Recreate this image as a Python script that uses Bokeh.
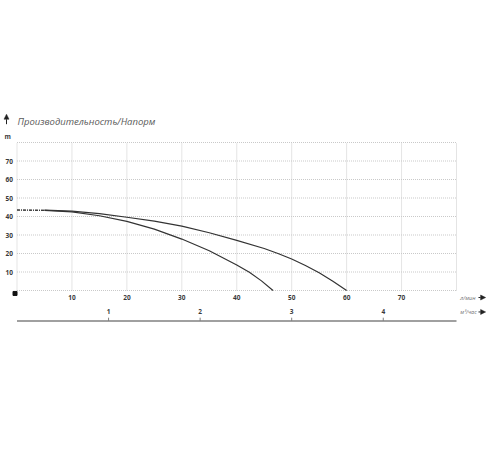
from bokeh.plotting import figure
from bokeh.models import Range1d, Arrow, NormalHead
from bokeh.core.properties import value
from bokeh.embed import file_html
from bokeh.resources import INLINE

# ---- data ----
flow_lpm_1 = [0, 5, 10, 15, 20, 25, 30, 35, 40, 42.3, 44.5, 46.6]
head_1 = [43.5, 43.3, 42.5, 40.4, 37.4, 33.2, 27.8, 21.5, 13.8, 9.9, 5.2, 0]
flow_lpm_2 = [0, 5, 10, 15, 20, 25, 30, 35, 40, 45, 47.5, 50, 52.5, 55, 57.5, 60]
head_2 = [43.5, 43.4, 42.9, 41.6, 39.6, 37.5, 34.8, 31.2, 27.1, 22.7, 20.0, 17.0, 13.5, 9.6, 5.0, 0]
x_ticks_lpm = [10, 20, 30, 40, 50, 60, 70]
y_ticks_m = [10, 20, 30, 40, 50, 60, 70]
grid_lpm = [0, 10, 20, 30, 40, 50, 60, 70, 80]
grid_m = [0, 10, 20, 30, 40, 50, 60, 70, 80]
x_ticks_m3h = [1, 2, 3, 4]
title_text = "Производительность/Напорм"
y_unit = "m"
x_unit_1 = "л/мин"
x_unit_2 = "м³/час"
LPM_PER_M3H = 1000 / 60
X_MAX = 80
Y_MAX = 80

FONT = "Open Sans"
TICK_COLOR = "#3a3a3a"
CURVE_COLOR = "#333333"
GRID_COLOR = "#c9c9c9"
UNIT_COLOR = "#707070"

# whole canvas is the frame; the grid area (0..80 x 0..80) sits inside it
W, H = 496, 350
px_x0, px_x80 = 16.5, 456        # canvas pixels of x=0 and x=80
px_y0, px_y80 = 290, 142         # canvas pixels (from top) of y=0 and y=80
sx = (px_x80 - px_x0) / X_MAX
sy = (px_y0 - px_y80) / Y_MAX
x_range = Range1d(-px_x0 / sx, X_MAX + (W - px_x80) / sx)
y_range = Range1d(-(H - px_y0) / sy, Y_MAX + px_y80 / sy)

p = figure(width=W, height=H, x_range=x_range, y_range=y_range,
           x_axis_type=None, y_axis_type=None,
           output_backend="svg", toolbar_location=None,
           min_border=0, outline_line_color=None,
           background_fill_color="white", border_fill_color="white")

# dotted grid
p.segment(x0=grid_lpm, y0=[0] * len(grid_lpm), x1=grid_lpm, y1=[Y_MAX] * len(grid_lpm),
          line_color=GRID_COLOR, line_width=1, line_dash="1 1")
p.segment(x0=[0] * len(grid_m), y0=grid_m, x1=[X_MAX] * len(grid_m), y1=grid_m,
          line_color=GRID_COLOR, line_width=1, line_dash="1 1")

# curves: dashed lead-in, then solid
for xs, ys in ((flow_lpm_1, head_1), (flow_lpm_2, head_2)):
    p.line(xs[:2], ys[:2], line_color=CURVE_COLOR, line_width=1.0, line_dash="3 1 1 1")
    p.line(xs[1:], ys[1:], line_color=CURVE_COLOR, line_width=1.2, line_join="round")

tick_style = dict(text_font=value(FONT), text_font_style="bold", text_font_size="6.5px",
                  text_color=TICK_COLOR, text_baseline="middle")

# y tick labels and unit
p.text(x=[0] * len(y_ticks_m), y=y_ticks_m, text=[str(v) for v in y_ticks_m],
       text_align="right", x_offset=-4, **tick_style)
p.text(x=[0], y=[Y_MAX + 3.5], text=[y_unit], text_align="right", x_offset=-6, **tick_style)

# x tick labels (l/min)
X_LABEL_Y = -3.8
p.text(x=x_ticks_lpm, y=[X_LABEL_Y] * len(x_ticks_lpm), text=[str(v) for v in x_ticks_lpm],
       text_align="center", **tick_style)

# secondary scale (m3/h)
m3h_pos = [v * LPM_PER_M3H for v in x_ticks_m3h]
M3_LABEL_Y = -11.6
AXIS2_Y = -16.5
p.text(x=m3h_pos, y=[M3_LABEL_Y] * len(m3h_pos), text=[str(v) for v in x_ticks_m3h],
       text_align="center", **tick_style)
p.segment(x0=[0], y0=[AXIS2_Y], x1=[X_MAX], y1=[AXIS2_Y], line_color="#808080", line_width=1.5)
p.segment(x0=m3h_pos, y0=[AXIS2_Y] * len(m3h_pos), x1=m3h_pos, y1=[AXIS2_Y + 1.8] * len(m3h_pos),
          line_color="#808080", line_width=1)

# origin marker
p.scatter(x=[-0.36], y=[-1.6], marker="square", size=4, color="#111111")

# title
p.text(x=[0], y=[Y_MAX + 11.3], text=[title_text], x_offset=0.5,
       text_font=value(FONT), text_font_style="italic", text_font_size="9.5px",
       text_color="#5a5a5a", text_baseline="middle", text_align="left")

# unit labels on the right
unit_style = dict(text_font=value(FONT), text_font_style="italic", text_font_size="5.5px",
                  text_color=UNIT_COLOR, text_baseline="middle", text_align="left")
p.text(x=[X_MAX + 0.7], y=[X_LABEL_Y], text=[x_unit_1], **unit_style)
p.text(x=[X_MAX + 0.7], y=[M3_LABEL_Y], text=[x_unit_2], **unit_style)


# arrows
def head():
    return NormalHead(size=5, fill_color="#222222", line_color="#222222", line_width=0.5)


p.add_layout(Arrow(end=head(), x_start=-1.91, y_start=Y_MAX + 9.9, x_end=-1.91, y_end=Y_MAX + 15.3,
                   line_color="#222222", line_width=1))
for yy in (X_LABEL_Y, M3_LABEL_Y):
    p.add_layout(Arrow(end=head(), x_start=X_MAX + 4.0, y_start=yy, x_end=X_MAX + 5.3, y_end=yy,
                       line_color="#222222", line_width=1))

open("out.html", "w").write(file_html(p, INLINE))
